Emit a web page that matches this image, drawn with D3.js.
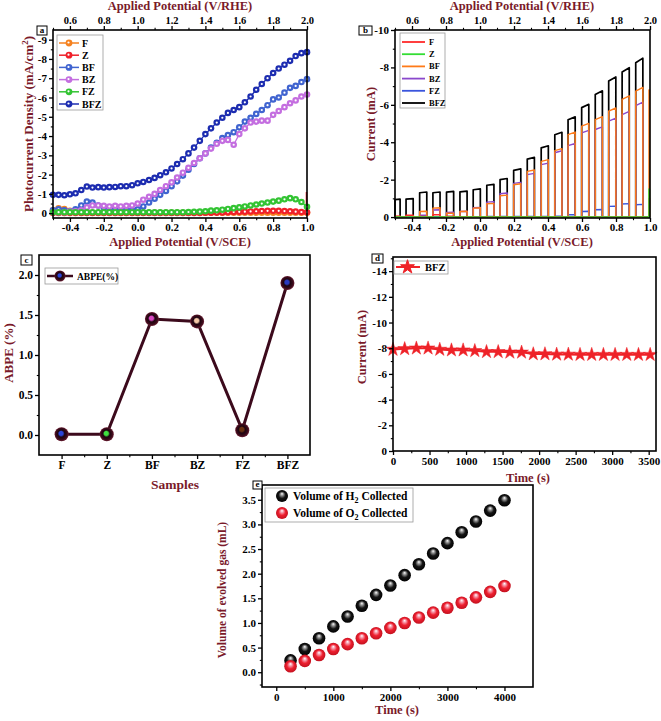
<!DOCTYPE html>
<html><head><meta charset="utf-8">
<script src="https://cdn.jsdelivr.net/npm/d3@7"></script>
<style>
body{margin:0;background:#fff}
text{font-family:"Liberation Serif","Times New Roman",serif;font-weight:bold}
</style>
</head><body>
<svg id="fig" width="661" height="721"></svg>
<script>
// ================= DATA =================
// Panel a : LSV photocurrent density (mA/cm2) vs potential (V/SCE)
const potentialA = [-0.5,-0.467,-0.433,-0.4,-0.367,-0.333,-0.3,-0.267,-0.233,-0.2,-0.167,-0.133,-0.1,-0.067,-0.033,
  0,0.033,0.067,0.1,0.133,0.167,0.2,0.233,0.267,0.3,0.333,0.367,0.4,0.433,0.467,0.5,0.533,0.567,0.6,0.633,0.667,
  0.7,0.733,0.767,0.8,0.833,0.867,0.9,0.933,0.967,1.0];
const seriesA = ["F","Z","BF","BZ","FZ","BFZ"];
const aF = [-0.15,-0.25,-0.22,-0.12,-0.05,-0.02,-0.02,-0.02,-0.02,-0.02,-0.02,-0.02,-0.02,-0.02,-0.02,
  -0.02,-0.02,-0.02,-0.02,-0.02,-0.02,-0.02,-0.02,-0.02,-0.02,-0.02,-0.02,-0.02,-0.02,-0.02,-0.02,-0.02,-0.02,-0.02,-0.02,-0.02,
  -0.02,-0.02,-0.02,-0.02,-0.02,-0.02,-0.02,-0.02,-0.02,-0.02];
const aZ = [-0.01,-0.01,-0.01,-0.01,-0.01,-0.01,-0.01,-0.01,-0.01,-0.01,-0.01,-0.01,-0.01,-0.01,-0.01,
  -0.01,-0.01,-0.01,-0.01,-0.01,-0.01,-0.01,-0.01,-0.01,-0.01,-0.01,-0.01,-0.02,-0.02,-0.03,-0.04,-0.05,-0.06,-0.07,-0.08,-0.09,
  -0.1,-0.11,-0.12,-0.12,-0.12,-0.11,-0.1,-0.08,-0.06,-0.05];
const aBF = [-0.15,-0.2,-0.15,-0.1,-0.2,-0.4,-0.6,-0.55,-0.4,-0.3,-0.25,-0.2,-0.15,-0.15,-0.15,
  -0.2,-0.35,-0.55,-0.75,-0.95,-1.15,-1.4,-1.65,-1.95,-2.25,-2.55,-2.85,-3.1,-3.4,-3.65,-3.9,-4.05,-4.2,-4.45,-4.75,-4.95,
  -5.15,-5.35,-5.6,-5.9,-6.0,-6.25,-6.5,-6.6,-6.8,-6.95];
const aBZ = [-0.05,-0.05,-0.05,-0.08,-0.1,-0.15,-0.3,-0.4,-0.4,-0.38,-0.35,-0.38,-0.35,-0.38,-0.4,
  -0.5,-0.7,-0.85,-1.0,-1.2,-1.4,-1.6,-1.85,-2.1,-2.35,-2.6,-2.85,-3.1,-3.35,-3.6,-3.75,-3.8,-3.55,-4.1,-4.4,-4.7,
  -4.75,-4.8,-4.8,-5.1,-5.3,-5.5,-5.7,-5.85,-6.05,-6.15];
const aFZ = [-0.05,-0.05,-0.05,-0.05,-0.05,-0.05,-0.05,-0.05,-0.05,-0.05,-0.05,-0.05,-0.05,-0.05,-0.05,
  -0.05,-0.05,-0.05,-0.05,-0.05,-0.05,-0.05,-0.05,-0.05,-0.06,-0.07,-0.08,-0.1,-0.13,-0.15,-0.18,-0.22,-0.26,-0.3,-0.35,-0.4,
  -0.45,-0.5,-0.55,-0.6,-0.65,-0.72,-0.78,-0.72,-0.58,-0.33];
const aBFZ = [-0.95,-0.95,-0.93,-0.98,-1.03,-1.2,-1.38,-1.33,-1.35,-1.33,-1.35,-1.36,-1.4,-1.4,-1.45,
  -1.55,-1.62,-1.72,-1.83,-1.97,-2.12,-2.32,-2.55,-2.8,-3.1,-3.4,-3.75,-4.1,-4.4,-4.7,-4.95,-5.2,-5.35,-5.5,-5.75,-6.05,
  -6.4,-6.7,-7.0,-7.27,-7.5,-7.7,-7.9,-8.15,-8.3,-8.35];
const aZSpike = -1.1;

// Panel b : chopped light current (mA)
const seriesB = ["F","Z","BF","BZ","FZ","BFZ"];
const pulseStart = [-0.5,-0.435,-0.355,-0.277,-0.197,-0.118,-0.04,0.04,0.118,0.198,0.278,0.36,0.44,0.518,0.598,0.678,0.757,0.836,0.916];
const pulseEnd   = [-0.47,-0.393,-0.313,-0.235,-0.155,-0.076,0.002,0.082,0.16,0.24,0.32,0.402,0.482,0.56,0.64,0.72,0.799,0.878,0.958];
const bF   = [-0.05,-0.1,-0.03,-0.12,-0.04,-0.02,-0.02,-0.02,-0.02,-0.02,-0.02,-0.02,-0.02,-0.02,-0.02,-0.02,-0.02,-0.02,-0.02];
const bZ   = [-0.01,-0.01,-0.01,-0.01,-0.01,-0.01,-0.01,-0.01,-0.01,-0.01,-0.01,-0.01,-0.01,-0.01,-0.01,-0.01,-0.01,-0.01,-0.01];
const bBF  = [-0.03,-0.07,-0.3,-0.48,-0.2,-0.3,-0.48,-0.71,-1.14,-1.73,-2.44,-2.98,-3.55,-4.41,-4.86,-5.21,-5.66,-6.29,-6.73];
const bBZ  = [-0.02,-0.05,-0.1,-0.38,-0.25,-0.3,-0.5,-0.8,-1.25,-1.8,-2.27,-2.8,-3.44,-3.82,-4.5,-4.68,-5.13,-5.48,-5.96];
const bFZ  = [-0.02,-0.02,-0.02,-0.02,-0.02,-0.02,-0.02,-0.03,-0.03,-0.03,-0.03,-0.03,-0.05,-0.12,-0.3,-0.39,-0.57,-0.7,-0.66];
const bBFZ = [-0.93,-0.96,-1.3,-1.3,-1.33,-1.35,-1.46,-1.7,-2.0,-2.5,-3.1,-3.7,-4.4,-5.2,-5.85,-6.55,-7.27,-7.75,-8.25];
const endSpikeSeries = ["F","Z","BF"];
const endSpikeValues = [-1.0,-1.5,-6.8];

// Panel c : ABPE
const samples = ["F","Z","BF","BZ","FZ","BFZ"];
const abpe = [0.01,0.01,1.45,1.42,0.06,1.9];

// Panel d : stability
const timeD = [0,160,320,480,640,800,960,1120,1280,1440,1600,1760,1920,2080,2240,2400,2560,2720,2880,3040,3200,3360,3520];
const currentD = [-7.9,-7.95,-8.0,-8.0,-7.9,-7.85,-7.85,-7.8,-7.72,-7.72,-7.68,-7.68,-7.55,-7.55,-7.52,-7.52,-7.5,-7.5,-7.5,-7.5,-7.5,-7.5,-7.5];

// Panel e : gas evolution
const timeE = [250,500,750,1000,1250,1500,1750,2000,2250,2500,2750,3000,3250,3500,3750,4000];
const h2 = [0.24,0.47,0.69,0.93,1.13,1.35,1.57,1.76,1.97,2.19,2.41,2.62,2.84,3.06,3.28,3.49];
const o2 = [0.12,0.23,0.35,0.47,0.57,0.69,0.79,0.9,1.0,1.11,1.21,1.31,1.41,1.52,1.63,1.75];

// tick values
const ticksSCE = [-0.4,-0.2,0,0.2,0.4,0.6,0.8,1.0];
const minorSCE = [-0.5,-0.3,-0.1,0.1,0.3,0.5,0.7,0.9];
const ticksRHE = [0.6,0.8,1.0,1.2,1.4,1.6,1.8,2.0];
const minorRHE = [0.5,0.7,0.9,1.1,1.3,1.5,1.7,1.9];

// ================= STYLE =================
const TITLE = "#7a1a2a";
const FONT = "'Liberation Serif','Times New Roman',serif";
const colA = {F:"#f58220",Z:"#f0202a",BF:"#4064d0",BZ:"#c46ee0",FZ:"#33c433",BFZ:"#1c2cb0"};
const colB = {F:"#ff2a2a",Z:"#33dd33",BF:"#ff7a18",BZ:"#8a48cc",FZ:"#3a55dd",BFZ:"#000000"};
const highlightC = ["#2a44d8","#40e040","#d848c0","#f4c8a8","#6a3010","#2a3ac0"];

const svg = d3.select("#fig");
const defs = svg.append("defs");

function frame(b){
  svg.append("rect").attr("x",b.x0).attr("y",b.y0).attr("width",b.x1-b.x0).attr("height",b.y1-b.y0)
    .attr("fill","none").attr("stroke","#000").attr("stroke-width",1.6);
}
function axis(maker, scale, tr, major, minor, fmt, fs, pad){
  const g = svg.append("g").attr("transform",tr)
    .call(maker(scale).tickValues(major).tickSize(4).tickPadding(pad==null?2:pad).tickFormat(fmt));
  g.select(".domain").remove();
  g.attr("font-family",FONT).attr("font-size",fs||11).attr("font-weight","bold");
  g.selectAll("line").attr("stroke-width",1.3);
  if(minor){
    const m = svg.append("g").attr("transform",tr)
      .call(maker(scale).tickValues(minor).tickSize(2.2).tickFormat(""));
    m.select(".domain").remove();
    m.selectAll("line").attr("stroke-width",1.1);
  }
}
function title(txt, x, y, rot, fs){
  const t = svg.append("text").attr("text-anchor","middle").attr("fill",TITLE).attr("font-size",fs||13)
    .attr("transform",`translate(${x},${y})`+(rot?" rotate(-90)":""));
  return t.text(txt);
}
function panelLabel(l, x, y, w, h){
  svg.append("rect").attr("x",x).attr("y",y).attr("width",w).attr("height",h)
    .attr("fill","#fff").attr("stroke","#000").attr("stroke-width",1);
  svg.append("text").attr("x",x+w/2).attr("y",y+h-2).attr("text-anchor","middle").attr("font-size",9).text(l);
}
function legendBox(x0,y0,x1,y1){
  svg.append("rect").attr("x",x0).attr("y",y0).attr("width",x1-x0).attr("height",y1-y0)
    .attr("fill","#fff").attr("stroke","#9a9a9a").attr("stroke-width",0.8);
}
const fmt1 = d => d.toFixed(1);
const fmtI = d => String(d);

// ================= PANEL A =================
const A = {x0:53,x1:307,y0:30,y1:218};
const xa = d3.scaleLinear().domain([-0.5,1.0]).range([A.x0,A.x1]);
const xaTop = d3.scaleLinear().domain([0.5,2.0]).range([A.x0,A.x1]);
const ya = d3.scaleLinear().domain([0.25,-9.5]).range([A.y1,A.y0]);
const dataA = {F:aF,Z:aZ,BF:aBF,BZ:aBZ,FZ:aFZ,BFZ:aBFZ};
const gA = svg.append("g");
seriesA.forEach(s=>{
  const pts = potentialA.map((p,i)=>[p,dataA[s][i]]);
  gA.append("path").attr("d",d3.line().x(d=>xa(d[0])).y(d=>ya(d[1]))(pts))
    .attr("fill","none").attr("stroke",colA[s]).attr("stroke-width",1.3);
  if(s==="Z"){
    gA.append("line").attr("x1",xa(1.0)-0.5).attr("x2",xa(1.0)-0.5).attr("y1",ya(0)).attr("y2",ya(aZSpike))
      .attr("stroke",colA.Z).attr("stroke-width",1.6);
  }
  const mk = gA.append("g");
  mk.selectAll("circle.o").data(pts).join("circle").attr("cx",d=>xa(d[0])).attr("cy",d=>ya(d[1]))
    .attr("r",3.3).attr("fill",colA[s]);
  mk.selectAll("circle.i").data(pts).join("circle").attr("class","i").attr("cx",d=>xa(d[0])).attr("cy",d=>ya(d[1]))
    .attr("r",1.1).attr("fill","#fff");
});
frame(A);
axis(d3.axisBottom, xa, `translate(0,${A.y1})`, ticksSCE, minorSCE, fmt1, 11, 1.5);
axis(d3.axisTop, xaTop, `translate(0,${A.y0})`, ticksRHE, minorRHE, fmt1, 10.5, 2.5);
axis(d3.axisLeft, ya, `translate(${A.x0},0)`, [0,-1,-2,-3,-4,-5,-6,-7,-8,-9], [-0.5,-1.5,-2.5,-3.5,-4.5,-5.5,-6.5,-7.5,-8.5], fmtI);
title("Applied Potential (V/RHE)", 180, 10, false, 12.5);
title("Applied Potential (V/SCE)", 180, 246, false, 12.5);
{
  const t = title("Photocurrent Density (mA/cm", 33, 124, true);
  t.append("tspan").attr("dy",-5).attr("font-size",9).text("2");
  t.append("tspan").attr("dy",5).text(")");
}
panelLabel("a", 37, 26, 10, 9);
legendBox(57,35,103,110);
seriesA.forEach((s,i)=>{
  const y = 43 + i*12.2;
  svg.append("line").attr("x1",59).attr("x2",79).attr("y1",y).attr("y2",y).attr("stroke",colA[s]).attr("stroke-width",1.5);
  svg.append("circle").attr("cx",69).attr("cy",y).attr("r",3.4).attr("fill",colA[s]);
  svg.append("circle").attr("cx",68.5).attr("cy",y-0.5).attr("r",1.1).attr("fill","#fff");
  svg.append("text").attr("x",82).attr("y",y+3.5).attr("font-size",10).text(s);
});

// ================= PANEL B =================
const B = {x0:395,x1:650,y0:30,y1:218};
const xb = d3.scaleLinear().domain([-0.5,1.0]).range([B.x0,B.x1]);
const xbTop = d3.scaleLinear().domain([0.5,2.0]).range([B.x0,B.x1]);
const yb = d3.scaleLinear().domain([0.05,-10]).range([B.y1,B.y0]);
const dataB = {F:bF,Z:bZ,BF:bBF,BZ:bBZ,FZ:bFZ,BFZ:bBFZ};
const drawOrderB = ["BFZ","BZ","FZ","BF","F","Z"];
const gB = svg.append("g");
drawOrderB.forEach(s=>{
  const pts = [];
  pulseStart.forEach((st,i)=>{
    const v = dataB[s][i];
    pts.push([st,0],[st,v],[pulseEnd[i],v*1.03],[pulseEnd[i],0]);
  });
  const k = endSpikeSeries.indexOf(s);
  if(k>=0){ pts.push([0.994,0],[0.994,endSpikeValues[k]],[0.997,endSpikeValues[k]],[0.997,0]); }
  pts.push([1.0,0]);
  gB.append("path").attr("d",d3.line().x(d=>xb(d[0])).y(d=>yb(d[1]))(pts))
    .attr("fill","none").attr("stroke",colB[s]).attr("stroke-width",s==="BFZ"?1.7:1.4).attr("stroke-linejoin","round");
});
frame(B);
axis(d3.axisBottom, xb, `translate(0,${B.y1})`, ticksSCE, minorSCE, fmt1, 11, 1.5);
axis(d3.axisTop, xbTop, `translate(0,${B.y0})`, ticksRHE, minorRHE, fmt1, 10.5, 2.5);
axis(d3.axisLeft, yb, `translate(${B.x0},0)`, [0,-2,-4,-6,-8,-10], [-1,-3,-5,-7,-9], fmtI);
title("Applied Potential (V/RHE)", 522, 10, false, 12.5);
title("Applied Potential (V/SCE)", 522, 246, false, 12.5);
title("Current (mA)", 375, 124, true, 12.5);
panelLabel("b", 359, 26, 13, 9);
legendBox(400,33,445,108);
seriesB.forEach((s,i)=>{
  const y = 42 + i*12.2;
  svg.append("line").attr("x1",402).attr("x2",425).attr("y1",y).attr("y2",y).attr("stroke",colB[s]).attr("stroke-width",1.8);
  svg.append("text").attr("x",429).attr("y",y+3).attr("font-size",8.5).text(s);
});

// ================= PANEL C =================
const C = {x0:39,x1:310,y0:255,y1:455};
const xc = d3.scaleLinear().domain([0.5,6.5]).range([C.x0,C.x1]);
const yc = d3.scaleLinear().domain([-0.25,2.25]).range([C.y1,C.y0]);
const darkC = "#3c0a1c";
highlightC.forEach((h,i)=>{
  const g = defs.append("radialGradient").attr("id","gc"+i).attr("cx","50%").attr("cy","50%").attr("r","50%").attr("fx","45%").attr("fy","42%");
  g.append("stop").attr("offset","0%").attr("stop-color",h);
  g.append("stop").attr("offset","28%").attr("stop-color",h);
  g.append("stop").attr("offset","50%").attr("stop-color","#1e0410");
  g.append("stop").attr("offset","80%").attr("stop-color","#3a0a1a");
  g.append("stop").attr("offset","100%").attr("stop-color","#6a1e32");
});
svg.append("path").attr("d",d3.line().x((d,i)=>xc(i+1)).y(d=>yc(d))(abpe))
  .attr("fill","none").attr("stroke",darkC).attr("stroke-width",3);
svg.selectAll("circle.c").data(abpe).join("circle").attr("class","c")
  .attr("cx",(d,i)=>xc(i+1)).attr("cy",d=>yc(d)).attr("r",7).attr("fill",(d,i)=>`url(#gc${i})`);
frame(C);
axis(d3.axisBottom, xc, `translate(0,${C.y1})`, [1,2,3,4,5,6], [1.5,2.5,3.5,4.5,5.5], d=>samples[d-1], 11.5);
axis(d3.axisLeft, yc, `translate(${C.x0},0)`, [0,0.5,1.0,1.5,2.0], [0.25,0.75,1.25,1.75], fmt1, 11.5);
title("ABPE (%)", 13, 353, true, 13);
title("Samples", 175, 489, false, 13.5);
panelLabel("c", 21, 255, 11, 10);
legendBox(45,268,118,284);
svg.append("line").attr("x1",47).attr("x2",73).attr("y1",276).attr("y2",276).attr("stroke",darkC).attr("stroke-width",2.5);
svg.append("circle").attr("cx",60).attr("cy",276).attr("r",5.5).attr("fill","url(#gc0)");
svg.append("text").attr("x",77).attr("y",279.5).attr("font-size",9.5).text("ABPE(%)");

// ================= PANEL D =================
const D = {x0:393,x1:656,y0:257,y1:451};
const xd = d3.scaleLinear().domain([0,3600]).range([D.x0,D.x1]);
const yd = d3.scaleLinear().domain([0,-15.1]).range([D.y1,D.y0]);
const red = "#ee2228";
svg.append("path").attr("d",d3.line().x((d,i)=>xd(timeD[i])).y(d=>yd(d))(currentD))
  .attr("fill","none").attr("stroke",red).attr("stroke-width",2);
const star = d3.symbol().type(d3.symbolStar).size(60);
svg.selectAll("path.st").data(currentD).join("path").attr("class","st")
  .attr("d",star).attr("transform",(d,i)=>`translate(${xd(timeD[i])},${yd(d)})`)
  .attr("fill",red).attr("stroke",red).attr("stroke-width",0.5);
frame(D);
axis(d3.axisBottom, xd, `translate(0,${D.y1})`, [0,500,1000,1500,2000,2500,3000,3500], [250,750,1250,1750,2250,2750,3250], fmtI);
axis(d3.axisLeft, yd, `translate(${D.x0},0)`, [0,-2,-4,-6,-8,-10,-12,-14], [-1,-3,-5,-7,-9,-11,-13,-15], fmtI);
title("Current (mA)", 366, 347, true, 12.5);
title("Time (s)", 528, 481.5, false, 12.5);
panelLabel("d", 372, 254, 11, 9);
legendBox(394,261,448,274);
svg.append("line").attr("x1",396).attr("x2",420).attr("y1",267).attr("y2",267).attr("stroke",red).attr("stroke-width",2);
svg.append("path").attr("d",star).attr("transform","translate(407.5,267)").attr("fill",red).attr("stroke",red);
svg.append("text").attr("x",425).attr("y",271).attr("font-size",10.5).text("BFZ");

// ================= PANEL E =================
const E = {x0:262,x1:533,y0:485,y1:687};
const xe = d3.scaleLinear().domain([-250,4500]).range([E.x0,E.x1]);
const ye = d3.scaleLinear().domain([-0.3,3.8]).range([E.y1,E.y0]);
function sphereGrad(id, hi, mid, base, edge){
  const g = defs.append("radialGradient").attr("id",id).attr("cx","50%").attr("cy","50%").attr("r","52%").attr("fx","50%").attr("fy","30%");
  g.append("stop").attr("offset","0%").attr("stop-color",hi);
  g.append("stop").attr("offset","22%").attr("stop-color",mid);
  g.append("stop").attr("offset","55%").attr("stop-color",base);
  g.append("stop").attr("offset","100%").attr("stop-color",edge);
}
sphereGrad("gH","#ffffff","#9a9a9a","#151515","#000000");
sphereGrad("gO","#ffffff","#f6a0b0","#ee2030","#c0101e");
svg.selectAll("circle.h").data(h2).join("circle").attr("class","h")
  .attr("cx",(d,i)=>xe(timeE[i])).attr("cy",d=>ye(d)).attr("r",6.3).attr("fill","url(#gH)");
svg.selectAll("circle.o2").data(o2).join("circle").attr("class","o2")
  .attr("cx",(d,i)=>xe(timeE[i])).attr("cy",d=>ye(d)).attr("r",6.3).attr("fill","url(#gO)");
frame(E);
axis(d3.axisBottom, xe, `translate(0,${E.y1})`, [0,1000,2000,3000,4000], [500,1500,2500,3500], fmtI);
axis(d3.axisLeft, ye, `translate(${E.x0},0)`, [0,0.5,1.0,1.5,2.0,2.5,3.0,3.5], [-0.25,0.25,0.75,1.25,1.75,2.25,2.75,3.25,3.75], fmt1);
title("Volume of evolved gas (mL)", 226, 590, true, 11.5);
title("Time (s)", 397, 714, false, 12.5);
panelLabel("e", 253, 481, 9, 8);
legendBox(265,488,413,522);
[["gH","H"],["gO","O"]].forEach((p,i)=>{
  const y = 496 + i*17;
  svg.append("circle").attr("cx",282).attr("cy",y).attr("r",6).attr("fill",`url(#${p[0]})`);
  const t = svg.append("text").attr("x",293).attr("y",y+4).attr("font-size",11.5).text("Volume of "+p[1]);
  t.append("tspan").attr("dy",3).attr("font-size",8).text("2");
  t.append("tspan").attr("dy",-3).text(" Collected");
});
</script>
</body></html>
